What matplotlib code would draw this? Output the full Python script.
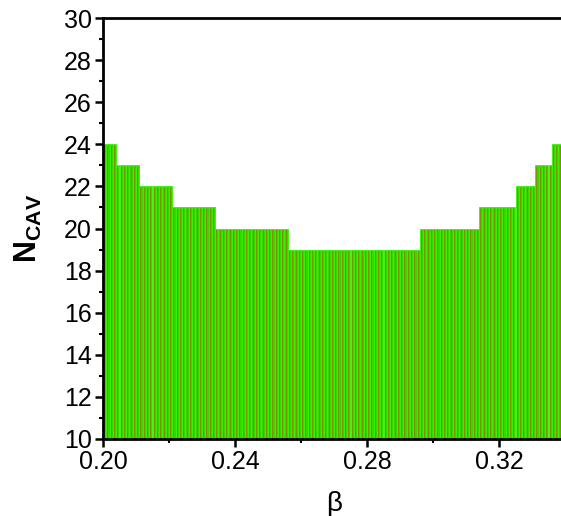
import matplotlib.pyplot as plt
import numpy as np

plt.rcParams['font.family'] = ['Liberation Sans', 'DejaVu Sans']
plt.rcParams['mathtext.fontset'] = 'custom'
plt.rcParams['mathtext.rm'] = 'Liberation Sans'
plt.rcParams['mathtext.bf'] = 'Liberation Sans:bold'

# number of cavities for each beta (step 0.001 from 0.200)
BETA_START = 0.200
BETA_STEP = 0.001
n_cav = ([24] * 4 + [23] * 7 + [22] * 10 + [21] * 13 + [20] * 22 +
         [19] * 40 + [20] * 18 + [21] * 11 + [22] * 6 + [23] * 5 + [24] * 4)
beta = BETA_START + BETA_STEP * np.arange(len(n_cav))

x_ticks = [0.20, 0.24, 0.28, 0.32]
y_ticks = [10, 12, 14, 16, 18, 20, 22, 24, 26, 28, 30]

DPI = 100
fig = plt.figure(figsize=(5.61, 5.16), dpi=DPI)
ax = fig.add_axes([103 / 561, 1 - 439 / 516, 462 / 561, 421 / 516])

heights = np.array(n_cav) - 10
ax.bar(beta, heights, bottom=10, width=BETA_STEP, align='edge',
       facecolor='#3ad400', edgecolor='#30f800', linewidth=0.6)
# darker olive stripe inside every bar
ax.bar(beta + 0.35 * BETA_STEP, heights - 0.08, bottom=10, width=0.3 * BETA_STEP,
       align='edge', facecolor='#7a9400', edgecolor='none')

ax.set_xlim(0.20, 0.34)
ax.set_ylim(10, 30)
ax.set_xticks(x_ticks)
ax.set_xticklabels(['%.2f' % t for t in x_ticks])
ax.set_xticks([0.22, 0.26, 0.30, 0.34], minor=True)
ax.set_yticks(y_ticks)
ax.set_yticks(np.arange(11, 30, 2), minor=True)

ax.tick_params(axis='both', which='major', labelsize=18, width=1.8, length=6,
               direction='out', pad=2)
ax.tick_params(axis='both', which='minor', width=1.5, length=3, direction='out')
ax.tick_params(axis='y', which='both', right=True, labelright=False)
for sp in ax.spines.values():
    sp.set_linewidth(2)

ax.set_ylabel(r'$\mathbf{N}_{\mathbf{CAV}}$', fontsize=22, labelpad=14)
ax.set_xlabel('β', fontsize=20, labelpad=12)

plt.savefig('out.png', dpi=DPI)
